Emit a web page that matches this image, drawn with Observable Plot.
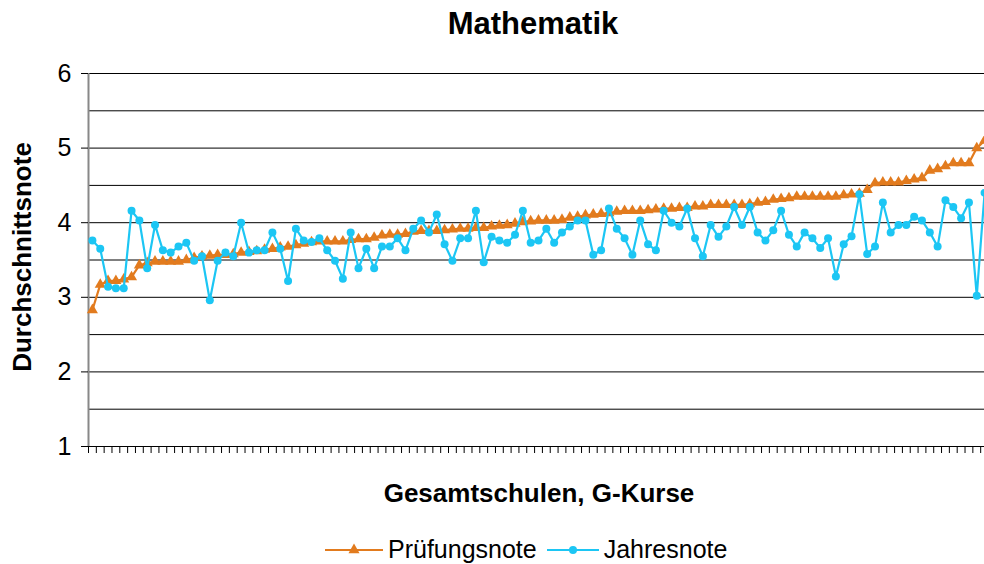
<!DOCTYPE html>
<html><head><meta charset="utf-8">
<script src="https://cdn.jsdelivr.net/npm/d3@7"></script>
<script src="https://cdn.jsdelivr.net/npm/@observablehq/plot@0.6"></script>
<style>
html,body{margin:0;padding:0;background:#fff;overflow:hidden;}
body{width:984px;height:564px;position:relative;font-family:"Liberation Sans",Arial,sans-serif;color:#000;}
#title{position:absolute;left:533px;top:6px;transform:translateX(-50%);font-weight:bold;font-size:31px;white-space:nowrap;}
#chart{position:absolute;left:0;top:60px;width:1000px;}
#chart svg{max-width:none !important;}
#ylabel{position:absolute;left:22px;top:257px;transform:translate(-50%,-50%) rotate(-90deg);font-weight:bold;font-size:26px;white-space:nowrap;}
#xlabel{position:absolute;left:539px;top:478px;transform:translateX(-50%);font-weight:bold;font-size:26px;white-space:nowrap;}
#legend{position:absolute;left:325px;top:535px;display:flex;align-items:center;font-size:25px;white-space:nowrap;}
#legend .item{display:flex;align-items:center;}
#legend svg{display:block;}
</style></head>
<body>
<div id="title">Mathematik</div>
<div id="chart"></div>
<div id="ylabel">Durchschnittsnote</div>
<div id="xlabel">Gesamtschulen, G-Kurse</div>
<div id="legend"></div>
<script>
// Series names
const seriesNames = ["Prüfungsnote", "Jahresnote"];
const seriesColors = ["#E27B1E", "#1CC6F4"];
// Prüfungsnote per school (sorted)
const pruefungsnote = [
 2.83,3.17,3.22,3.22,3.24,3.27,3.43,3.46,3.48,3.48,
 3.48,3.48,3.50,3.53,3.55,3.56,3.57,3.57,3.58,3.60,
 3.61,3.62,3.64,3.65,3.67,3.68,3.70,3.72,3.74,3.75,
 3.75,3.75,3.75,3.77,3.78,3.78,3.80,3.83,3.84,3.84,
 3.85,3.88,3.89,3.89,3.89,3.90,3.91,3.92,3.92,3.93,
 3.93,3.95,3.96,3.97,3.99,4.01,4.02,4.03,4.03,4.03,
 4.04,4.07,4.08,4.10,4.11,4.12,4.13,4.15,4.16,4.16,
 4.16,4.17,4.18,4.19,4.19,4.20,4.20,4.22,4.22,4.24,
 4.24,4.24,4.24,4.24,4.25,4.27,4.28,4.31,4.32,4.33,
 4.35,4.35,4.35,4.35,4.35,4.35,4.37,4.38,4.39,4.44,
 4.53,4.54,4.54,4.54,4.56,4.58,4.60,4.70,4.72,4.76,
 4.80,4.80,4.80,5.00,5.10];
// Jahresnote per school
const jahresnote = [
 3.76,3.65,3.14,3.12,3.12,4.16,4.03,3.39,3.97,3.63,
 3.60,3.68,3.73,3.49,3.55,2.96,3.49,3.60,3.55,4.00,
 3.60,3.63,3.63,3.87,3.65,3.22,3.92,3.76,3.74,3.79,
 3.63,3.49,3.25,3.87,3.39,3.65,3.39,3.68,3.68,3.79,
 3.63,3.92,4.03,3.87,4.11,3.71,3.49,3.79,3.79,4.16,
 3.47,3.81,3.76,3.73,3.84,4.16,3.73,3.76,3.92,3.73,
 3.87,3.95,4.03,4.03,3.57,3.63,4.19,3.92,3.79,3.57,
 4.03,3.71,3.63,4.16,4.00,3.95,4.19,3.79,3.55,3.97,
 3.81,3.95,4.21,3.97,4.21,3.87,3.76,3.90,4.16,3.84,
 3.68,3.87,3.79,3.66,3.79,3.28,3.71,3.82,4.38,3.58,
 3.68,4.27,3.87,3.97,3.97,4.08,4.03,3.87,3.68,4.30,
 4.21,4.06,4.27,3.02,4.40];
const yTicks = [1,2,3,4,5,6];
const yGrid = [1,1.5,2,2.5,3,3.5,4,4.5,5,5.5,6];

const data = pruefungsnote.map((p, i) => ({i, p, j: jahresnote[i]}));
const n = data.length;
const bounds = d3.range(n + 1).map(k => k - 0.5);

const chart = Plot.plot({
  width: 1000,
  height: 400,
  marginLeft: 88,
  marginRight: 12,
  marginTop: 13,
  marginBottom: 14,
  style: {fontFamily: '"Liberation Sans", Arial, sans-serif', background: "#fff", maxWidth: "none"},
  x: {type: "linear", domain: [-0.5, n - 0.5], axis: null},
  y: {domain: [1, 6], axis: null},
  marks: [
    Plot.ruleY(yGrid, {stroke: "#000", strokeWidth: 1}),
    Plot.ruleX([-0.5], {stroke: "#888", strokeWidth: 2}),
    Plot.axisY({ticks: yTicks, tickSize: 7, tickPadding: 10, fontSize: 25, tickFormat: d3.format("d"), label: null, stroke: "#000", color: "#000"}),
    Plot.axisX({ticks: bounds, tickSize: 7, tickFormat: () => "", label: null, stroke: "#000"}),
    Plot.line(data, {x: "i", y: "p", stroke: seriesColors[0], strokeWidth: 2.2}),
    Plot.dot(data, {x: "i", y: "p", symbol: "triangle", r: 4.1, fill: seriesColors[0], stroke: "none"}),
    Plot.line(data, {x: "i", y: "j", stroke: seriesColors[1], strokeWidth: 2.2}),
    Plot.dot(data, {x: "i", y: "j", symbol: "circle", r: 4, fill: seriesColors[1], stroke: "none"})
  ]
});
document.getElementById("chart").appendChild(chart);

// legend
const legend = document.getElementById("legend");
const symbols = [d3.symbolTriangle, d3.symbolCircle];
const swW = [58, 52];
seriesNames.forEach((name, k) => {
  const item = document.createElement("div");
  item.className = "item";
  item.style.marginRight = k === 0 ? "10px" : "0";
  const svg = d3.create("svg").attr("width", swW[k]).attr("height", 20);
  svg.append("line").attr("x1", 0).attr("x2", swW[k]).attr("y1", 10).attr("y2", 10)
     .attr("stroke", seriesColors[k]).attr("stroke-width", 2.2);
  svg.append("path").attr("transform", `translate(${swW[k]/2},10)`)
     .attr("d", d3.symbol(symbols[k], k === 0 ? Math.PI*4.1*4.1 : Math.PI*4*4)())
     .attr("fill", seriesColors[k]);
  item.appendChild(svg.node());
  const t = document.createElement("span");
  t.textContent = name;
  t.style.marginLeft = "5px";
  item.appendChild(t);
  legend.appendChild(item);
});
</script>
</body></html>
